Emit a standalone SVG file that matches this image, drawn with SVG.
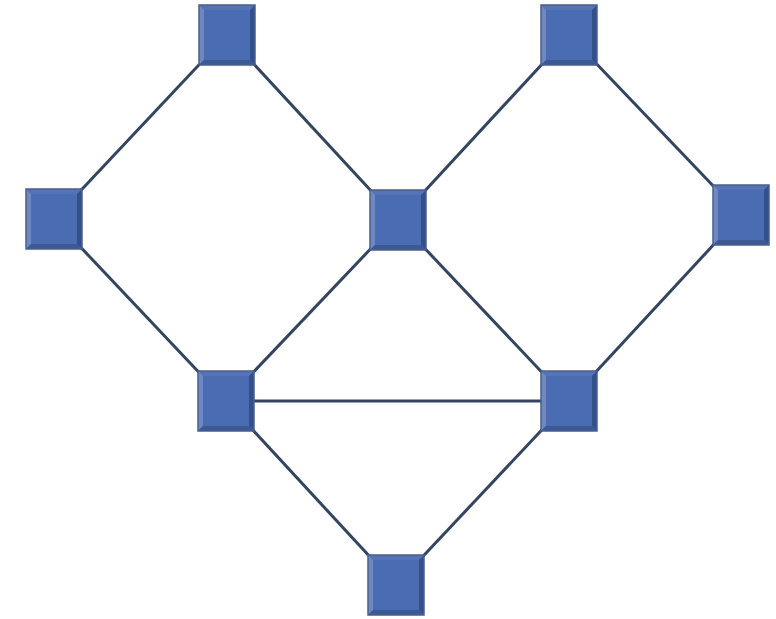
<svg xmlns="http://www.w3.org/2000/svg" width="776" height="619" viewBox="0 0 776 619">
<defs>
<style>
.edge{stroke:#34455f;stroke-width:3;fill:none}
.face{fill:#4a6cb2}
.lt{fill:#6f88bf}
.dk{fill:#34508a}
.rim{fill:none;stroke:#4a5f8f;stroke-width:1.5}
</style>
<g id="node">
<rect x="-28" y="-30" width="56" height="60" class="face"/>
<polygon points="-28,-30 28,-30 23,-25 -23,-25" fill="#5674b5"/>
<polygon points="-28,-30 -23,-25 -23,25 -28,30" class="lt"/>
<polygon points="28,-30 28,30 23,25 23,-25" class="dk"/>
<polygon points="-28,30 28,30 23,25 -23,25" fill="#3d5994"/>
<rect x="-28" y="-30" width="56" height="60" class="rim"/>
</g>
</defs>
<rect width="776" height="619" fill="#ffffff"/>
<g id="edges">
<line class="edge" x1="227" y1="35" x2="54" y2="219"/>
<line class="edge" x1="227" y1="35" x2="398" y2="220"/>
<line class="edge" x1="54" y1="219" x2="226" y2="401"/>
<line class="edge" x1="398" y1="220" x2="226" y2="401"/>
<line class="edge" x1="398" y1="220" x2="569" y2="401"/>
<line class="edge" x1="569" y1="35" x2="398" y2="220"/>
<line class="edge" x1="569" y1="35" x2="741" y2="215"/>
<line class="edge" x1="741" y1="215" x2="569" y2="401"/>
<line class="edge" x1="226" y1="401" x2="569" y2="401"/>
<line class="edge" x1="226" y1="401" x2="396" y2="585"/>
<line class="edge" x1="569" y1="401" x2="396" y2="585"/>
</g>
<g id="n1"><use href="#node" x="227" y="35"/></g>
<g id="n2"><use href="#node" x="569" y="35"/></g>
<g id="n3"><use href="#node" x="54" y="219"/></g>
<g id="n4"><use href="#node" x="398" y="220"/></g>
<g id="n5"><use href="#node" x="741" y="215"/></g>
<g id="n6"><use href="#node" x="226" y="401"/></g>
<g id="n7"><use href="#node" x="569" y="401"/></g>
<g id="n8"><use href="#node" x="396" y="585"/></g>
</svg>
